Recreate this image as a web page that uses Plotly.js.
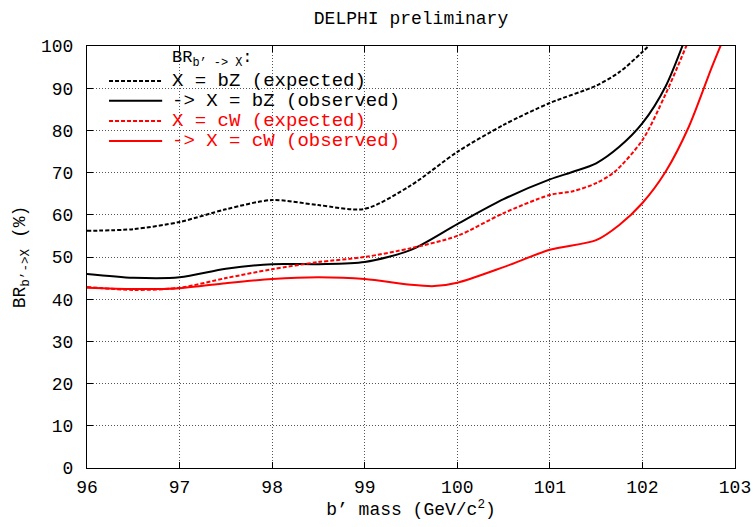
<!DOCTYPE html>
<html>
<head>
<meta charset="utf-8">
<script src="https://cdn.plot.ly/plotly-3.0.1.min.js"></script>
<style>html,body{margin:0;padding:0;background:#fff;}#chart{width:753px;height:527px;}</style>
</head>
<body>
<div id="chart"></div>
<script>
// b' mass (GeV/c^2) and BR (%)
const massBzExp = [96, 96.5, 97, 97.5, 98, 98.5, 99, 99.5, 100, 100.5, 101, 101.5, 101.75, 102, 102.2];
const brBzExp   = [56.2, 56.6, 58.3, 61.3, 63.5, 62.3, 61.4, 67.0, 74.9, 81.3, 86.5, 90.6, 93.8, 98.6, 103];

const massBzObs = [96, 96.5, 97, 97.5, 98, 98.5, 99, 99.5, 100, 100.5, 101, 101.25, 101.5, 101.75, 102, 102.25, 102.5];
const brBzObs   = [46.0, 45.1, 45.2, 47.2, 48.3, 48.3, 48.8, 51.7, 57.8, 63.7, 68.4, 70.2, 72.2, 76.1, 81.7, 90.4, 104];

const massCwExp = [96, 96.5, 97, 97.5, 98, 98.5, 99, 99.5, 100, 100.5, 101, 101.25, 101.5, 101.7, 102, 102.25, 102.55];
const brCwExp   = [42.9, 42.2, 42.7, 45.0, 47.1, 48.8, 50.0, 52.1, 55.0, 60.4, 64.7, 65.6, 67.5, 70.2, 77.7, 88.6, 104];

const massCwObs = [96, 96.5, 97, 97.5, 98, 98.5, 99, 99.5, 99.75, 100, 100.5, 101, 101.5, 101.75, 102, 102.25, 102.5, 102.75, 102.9];
const brCwObs   = [42.7, 42.4, 42.6, 43.8, 44.8, 45.2, 44.8, 43.4, 43.1, 43.9, 47.6, 51.7, 54.0, 57.6, 62.8, 70.2, 80.8, 95.0, 103];

const seriesNames = ['X = bZ (expected)', '-> X = bZ (observed)', 'X = cW (expected)', '-> X = cW (observed)'];
const seriesColors = ['#000000', '#000000', '#ff0000', '#ff0000'];
const seriesDash = ['4px,2px', 'solid', '4px,2px', 'solid'];

const xTicks = [96, 97, 98, 99, 100, 101, 102, 103];
const yTicks = [0, 10, 20, 30, 40, 50, 60, 70, 80, 90, 100];

const FONT = "'Liberation Mono', 'DejaVu Sans Mono', monospace";
const xs = [massBzExp, massBzObs, massCwExp, massCwObs];
const ys = [brBzExp, brBzObs, brCwExp, brCwObs];

const traces = xs.map((x, i) => ({
  x: x, y: ys[i], mode: 'lines', name: seriesNames[i], showlegend: false,
  line: {color: seriesColors[i], width: 2, dash: seriesDash[i], shape: 'spline', smoothing: 0.8}
}));

const axisCommon = {
  showline: true, linecolor: '#000', linewidth: 1, mirror: 'allticks',
  ticks: 'inside', ticklen: 6, tickcolor: '#000',
  showgrid: true, gridcolor: '#555', griddash: '1px,2px', gridwidth: 1,
  zeroline: false, tickfont: {family: FONT, size: 18, color: '#000'}
};

// legend drawn as key lines + labels (gnuplot style)
const legendRowsY = [0.917, 0.870, 0.822, 0.775];
const shapes = [];
const annotations = [{
  xref: 'paper', yref: 'paper', x: 0.128, y: 0.97, xanchor: 'left', yanchor: 'middle',
  text: 'BR<sub>b’ -> X</sub>:', showarrow: false, font: {family: FONT, size: 17, color: '#000'}
}];
seriesNames.forEach((n, i) => {
  shapes.push({type: 'line', xref: 'paper', yref: 'paper', x0: 0.034, x1: 0.116,
    y0: legendRowsY[i], y1: legendRowsY[i],
    line: {color: seriesColors[i], width: 2, dash: seriesDash[i]}});
  annotations.push({xref: 'paper', yref: 'paper', x: 0.128, y: legendRowsY[i],
    xanchor: 'left', yanchor: 'middle', text: n, showarrow: false,
    font: {family: FONT, size: 19, color: seriesColors[i]}});
});

const layout = {
  width: 753, height: 527,
  margin: {l: 87, r: 18, t: 46, b: 59},
  paper_bgcolor: '#fff', plot_bgcolor: '#fff',
  font: {family: FONT, size: 18, color: '#000'},
  title: {text: 'DELPHI preliminary', font: {family: FONT, size: 18, color: '#000'},
          xref: 'paper', x: 0.5, xanchor: 'center', y: 0.966, yanchor: 'middle'},
  xaxis: Object.assign({}, axisCommon, {
    range: [96, 103], tickvals: xTicks, ticktext: xTicks.map(String), ticklabelstandoff: 2,
    title: {text: 'b’ mass (GeV/c<sup>2</sup>)', font: {family: FONT, size: 18, color: '#000'}, standoff: 4}
  }),
  yaxis: Object.assign({}, axisCommon, {
    range: [0, 100], tickvals: yTicks, ticktext: yTicks.map(String), ticklabelstandoff: 9,
    title: {text: 'BR<sub>b’->X</sub> (%)', font: {family: FONT, size: 18, color: '#000'}, standoff: 10}
  }),
  showlegend: false,
  shapes: shapes,
  annotations: annotations
};

Plotly.newPlot('chart', traces, layout, {displayModeBar: false, staticPlot: true});
</script>
</body>
</html>
